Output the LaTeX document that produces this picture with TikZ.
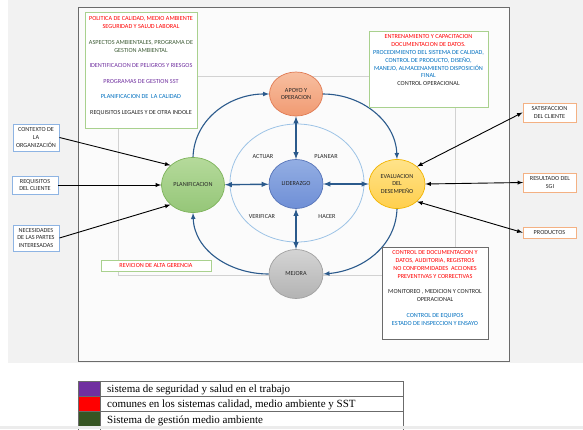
\documentclass[tikz,border=0pt]{standalone}
\usepackage{fontspec}
\setmainfont{Carlito}
\newfontfamily\leyenda{Liberation Serif}
\usetikzlibrary{arrows}
\usetikzlibrary{shapes.geometric}
\definecolor{fondo}{HTML}{F2F2F2}
\definecolor{marco}{HTML}{6B6B6B}
\definecolor{azulciclo}{HTML}{2B5A8C}
\definecolor{azulclaro}{HTML}{9DC3E6}
\definecolor{azulcaja}{HTML}{8EB4E3}
\definecolor{naranjacaja}{HTML}{F4B183}
\definecolor{verdecaja}{HTML}{A9D18E}
\definecolor{rojotexto}{HTML}{FF0000}
\definecolor{verdetexto}{HTML}{3E5C36}
\definecolor{moradotexto}{HTML}{7030A0}
\definecolor{azultexto}{HTML}{0070C0}
\definecolor{negrotexto}{HTML}{262626}
\definecolor{verdeleyenda}{HTML}{375623}
\definecolor{apoyoarriba}{HTML}{F7BFA0}
\definecolor{apoyoabajo}{HTML}{F19A72}
\definecolor{apoyoborde}{HTML}{E07B54}
\definecolor{planarriba}{HTML}{B5DA9B}
\definecolor{planabajo}{HTML}{95C678}
\definecolor{planborde}{HTML}{7DB35A}
\definecolor{liderarriba}{HTML}{93AEE3}
\definecolor{liderabajo}{HTML}{6F8FD6}
\definecolor{liderborde}{HTML}{5573B8}
\definecolor{evalarriba}{HTML}{FFE38A}
\definecolor{evalabajo}{HTML}{FFCF4D}
\definecolor{evalborde}{HTML}{F2B400}
\definecolor{mejoraarriba}{HTML}{D4D4D4}
\definecolor{mejoraabajo}{HTML}{B3B3B3}
\definecolor{mejoraborde}{HTML}{A0A0A0}
\newcommand{\chico}{\fontsize{6.2}{7.8}\selectfont}
\tikzset{%
    fase/.style={shape=ellipse,draw,inner sep=0pt,line width=0.7pt,align=center,font=\chico,text=negrotexto},
    entrada/.style={shape=rectangle,draw=azulcaja,line width=0.9pt,fill=white,align=center,font=\chico,text=negrotexto,inner sep=0pt,minimum width=46pt},
    salida/.style={shape=rectangle,draw=naranjacaja,line width=0.9pt,fill=white,align=center,font=\chico,text=negrotexto,inner sep=0pt,minimum width=53pt},
    nota/.style={shape=rectangle,draw=verdecaja,line width=0.8pt,fill=white,inner sep=0pt},
    notatexto/.style={anchor=north,align=center,font=\chico,inner sep=0pt},
    etiqueta/.style={font=\chico,text=negrotexto,inner sep=0pt},
    ciclo/.style={->,draw=azulciclo,line width=1.1pt},
    enlace/.style={<->,draw=azulciclo,line width=1.4pt},
    flujo/.style={->,line width=0.9pt},
    doble/.style={<->,line width=0.9pt},
    fila/.style={anchor=base west,inner sep=0pt,font=\leyenda\fontsize{11}{13}\selectfont},
}

\begin{document}
\begin{tikzpicture}[x=1pt,y=-1pt,>=latex]
        \useasboundingbox (0,0) rectangle (583,429);
        \fill[fondo] (8,0) rectangle (583,363);
        \filldraw[fill=white!70!fondo,draw=marco,line width=0.8pt] (78,7) rectangle (509,361);
        \draw[gray!35,line width=0.6pt] (118,76) rectangle (455,275);

        % circulo interior
        \draw[azulclaro,line width=0.8pt] (297,183) ellipse [x radius=67pt,y radius=59pt];

        % fases
        \node[fase,draw=apoyoborde,top color=apoyoarriba,bottom color=apoyoabajo,minimum width=53pt,minimum height=44pt] (apoyo) at (296,94) {APOYO Y\\OPERACION};
        \node[fase,draw=planborde,top color=planarriba,bottom color=planabajo,minimum width=63pt,minimum height=55pt] (plan) at (193,185) {PLANIFICACION};
        \node[fase,draw=liderborde,top color=liderarriba,bottom color=liderabajo,minimum width=54pt,minimum height=49pt] (lider) at (296,184) {LIDERAZGO};
        \node[fase,draw=evalborde,top color=evalarriba,bottom color=evalabajo,minimum width=56pt,minimum height=49pt] (eval) at (397,184) {EVALUACION\\DEL\\DESEMPEÑO};
        \node[fase,draw=mejoraborde,top color=mejoraarriba,bottom color=mejoraabajo,minimum width=54pt,minimum height=49pt] (mejora) at (296,274) {MEJORA};

        \node[etiqueta] (actuar) at (263,157) {ACTUAR};
        \node[etiqueta] (planear) at (326,157) {PLANEAR};
        \node[etiqueta] (verificar) at (262,217) {VERIFICAR};
        \node[etiqueta] (hacer) at (327,217) {HACER};

        \draw[ciclo] (plan.north) to[out=88,in=180] (apoyo.west);
        \draw[ciclo] (apoyo.east) to[out=0,in=92] (eval.north);
        \draw[ciclo] (eval.south) to[out=-92,in=5] (mejora.east);
        \draw[ciclo] (mejora.west) to[out=180,in=-88] (plan.south);

        \draw[enlace] (lider) -- (apoyo);
        \draw[enlace] (lider) -- (mejora);
        \draw[enlace] (lider) -- (plan);
        \draw[enlace] (lider) -- (eval);

        % entradas
        \node[entrada,minimum height=27pt] (contexto) at (36,137.5) {CONTEXTO DE\\LA\\ORGANIZACIÓN};
        \node[entrada,minimum height=18pt] (requisitos) at (35,185) {REQUISITOS\\DEL CLIENTE};
        \node[entrada,minimum height=26pt] (necesidades) at (36,238) {NECESIDADES\\DE LAS PARTES\\INTERESADAS};
        \draw[flujo] (contexto.east) -- (plan.north west);
        \draw[flujo] (requisitos.east) -- (plan.west);
        \draw[flujo] (necesidades.east) -- (plan.south west);

        % salidas
        \node[salida,minimum height=19pt] (satis) at (549.5,112.5) {SATISFACCION\\DEL CLIENTE};
        \node[salida,minimum height=19pt] (resultado) at (550,182.5) {RESULTADO DEL\\SGI};
        \node[salida,minimum height=11pt] (productos) at (549.5,232.5) {PRODUCTOS};
        \draw[doble] (eval.north east) -- (satis.west);
        \draw[doble] (eval.east) -- (resultado.west);
        \draw[doble] (eval.south east) -- (productos.west);

        % notas
        \node[nota,minimum width=112pt,minimum height=116pt] (politica) at (141,70) {};
        \node[notatexto] (politicatexto) at ([yshift=-5pt]politica.north) {%
            \textcolor{rojotexto}{POLITICA DE CALIDAD, MEDIO AMBIENTE}\\
            \textcolor{rojotexto}{SEGURIDAD Y SALUD LABORAL}\\[7.8pt]
            \textcolor{verdetexto}{ASPECTOS AMBIENTALES, PROGRAMA DE}\\
            \textcolor{verdetexto}{GESTION AMBIENTAL}\\[7.8pt]
            \textcolor{moradotexto}{IDENTIFICACION DE PELIGROS Y RIESGOS}\\[7.8pt]
            \textcolor{moradotexto}{PROGRAMAS DE GESTION SST}\\[7.8pt]
            \textcolor{azultexto}{PLANIFICACION DE\ \ LA CALIDAD}\\[7.8pt]
            \textcolor{negrotexto}{REQUISITOS LEGALES Y DE OTRA INDOLE}};

        \node[nota,minimum width=119pt,minimum height=76pt] (entrenamiento) at (428.5,69) {};
        \node[notatexto] (entrenamientotexto) at ([yshift=-4pt]entrenamiento.north) {%
            \textcolor{rojotexto}{ENTRENAMIENTO Y CAPACITACION}\\
            \textcolor{rojotexto}{DOCUMENTACION DE DATOS.}\\
            \textcolor{azultexto}{PROCEDIMIENTO DEL SISTEMA DE CALIDAD,}\\
            \textcolor{azultexto}{CONTROL DE PRODUCTO, DISEÑO,}\\
            \textcolor{azultexto}{MANEJO, ALMACENAMIENTO DISPOSICIÓN}\\
            \textcolor{azultexto}{FINAL}\\
            \textcolor{negrotexto}{CONTROL OPERACIONAL}};

        \node[nota,draw=marco,minimum width=106pt,minimum height=92pt] (control) at (435,293) {};
        \node[notatexto] (controltexto) at ([yshift=-4pt]control.north) {%
            \textcolor{rojotexto}{CONTROL DE DOCUMENTACION Y}\\
            \textcolor{rojotexto}{DATOS, AUDITORIA, REGISTROS}\\
            \textcolor{rojotexto}{NO CONFORMIDADES\ \ ACCIONES}\\
            \textcolor{rojotexto}{PREVENTIVAS Y CORRECTIVAS}\\[7.8pt]
            \textcolor{negrotexto}{MONITOREO , MEDICION Y CONTROL}\\
            \textcolor{negrotexto}{OPERACIONAL}\\[7.8pt]
            \textcolor{azultexto}{CONTROL DE EQUIPOS}\\
            \textcolor{azultexto}{ESTADO DE INSPECCION Y ENSAYO}};

        \node[nota,minimum width=110pt,minimum height=11pt,font=\chico,text=rojotexto] (revision) at (156,265.5) {REVICION DE ALTA GERENCIA};

        % leyenda
        \fill[moradotexto] (78,381) rectangle (100,396);
        \fill[red] (78,396) rectangle (100,411);
        \fill[verdeleyenda] (78,411) rectangle (100,429);
        \draw[marco,line width=0.7pt] (78,381) rectangle (403,432);
        \draw[marco,line width=0.7pt] (78,396) -- (403,396);
        \draw[marco,line width=0.7pt] (78,411) -- (403,411);
        \draw[marco,line width=0.7pt] (100,381) -- (100,432);
        \node[fila] (seguridad) at (107,392.5) {sistema de seguridad y salud en el trabajo};
        \node[fila] (comunes) at (107,407.5) {comunes en los sistemas calidad, medio ambiente y SST};
        \node[fila] (ambiente) at (107,423) {Sistema de gestión medio ambiente};
        \fill[gray!15] (0,426) rectangle (583,429);
\end{tikzpicture}
\end{document}
